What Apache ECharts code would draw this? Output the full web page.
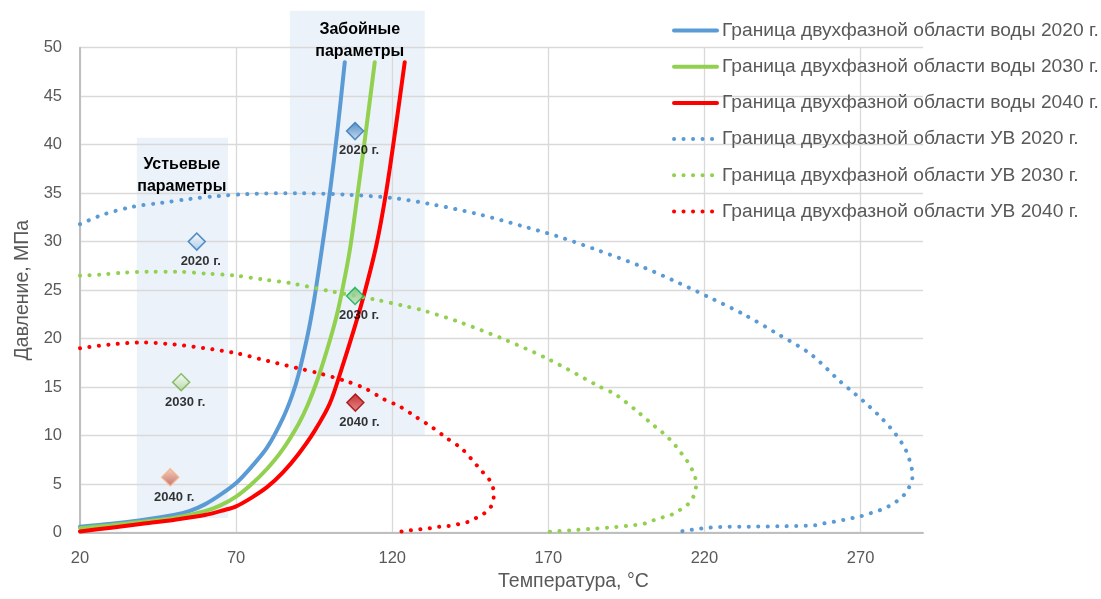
<!DOCTYPE html>
<html><head><meta charset="utf-8">
<script src="https://cdn.jsdelivr.net/npm/echarts@6/dist/echarts.min.js"></script>
<style>html,body{margin:0;padding:0;background:#fff}#c{width:1101px;height:599px}</style>
</head><body><div id="c"></div>
<script>
// ---------- DATA ----------
const xTicks = [20, 70, 120, 170, 220, 270];
const seriesNames = [
  'Граница двухфазной области воды 2020 г.',
  'Граница двухфазной области воды 2030 г.',
  'Граница двухфазной области воды 2040 г.',
  'Граница двухфазной области УВ 2020 г.',
  'Граница двухфазной области УВ 2030 г.',
  'Граница двухфазной области УВ 2040 г.'
];
// water two-phase boundary [T, P]
const water2020 = [[20,0.6],[30,0.9],[40,1.3],[50,1.8],[55,2.2],[60,2.9],[65,3.9],[70,5.1],[75,6.8],[80,8.8],[85,11.8],[88,14.2],[90,16.3],[93,20.5],[95,24],[97,28.2],[100,35],[102.5,41.6],[104.8,48.5]];
const water2030 = [[20,0.45],[30,0.75],[40,1.1],[50,1.5],[60,2.2],[65,2.8],[70,3.7],[75,5.0],[80,6.6],[85,8.6],[90,11.2],[93,13.2],[96,15.7],[99,18.7],[102,22.1],[104,25],[106.4,29.1],[108.7,34.4],[111.5,41.2],[114.4,48.5]];
const water2040 = [[20,0.1],[30,0.5],[40,0.9],[50,1.3],[60,1.8],[66,2.3],[70,2.7],[75,3.6],[80,4.7],[85,6.2],[90,8.1],[95,10.4],[100,13.3],[104.3,17.4],[108,21.2],[111.2,24.8],[114.9,29.6],[118.1,35.2],[121,41.5],[124,48.5]];
// hydrocarbon (УВ) two-phase envelope [T, P]
const uv2020 = [[20,31.8],[27.5,32.8],[37,33.6],[46.1,34.0],[55.2,34.4],[64.3,34.7],[73.3,34.9],[89.3,35.0],[105,34.85],[120,34.5],[131.8,33.9],[146.7,32.9],[161.7,31.6],[173.4,30.5],[185.1,29.2],[199.3,27.5],[210.7,25.9],[221.9,24.2],[232.6,22.5],[243.3,20.5],[254,18.4],[263.4,15.6],[268.2,14.3],[272.8,13.0],[277,11.7],[281.1,10.2],[284.5,8.5],[286.4,6.6],[286.6,5.7],[285.6,4.7],[284,3.9],[281.5,3.2],[279,2.7],[276.2,2.3],[273.3,2.0],[270.3,1.7],[267.5,1.5],[264.5,1.3],[261.4,1.1],[258.4,0.95],[255.4,0.74],[245,0.65],[234.4,0.6],[224.8,0.57],[221.6,0.5],[218.6,0.4],[215.4,0.26],[212.5,0.12]];
const uv2030 = [[20,26.5],[26.4,26.6],[34,26.8],[41.9,26.9],[50.9,26.9],[60.5,26.7],[69.6,26.5],[78.6,26.1],[87.7,25.7],[100,24.9],[114.9,24.0],[123.4,23.4],[129.9,22.9],[141.6,21.7],[156,19.9],[169.9,17.9],[186.1,15.1],[191.7,14.2],[199.2,12.3],[203.5,11.1],[205.9,10.5],[208.3,9.8],[210.4,9.1],[212.3,8.3],[214.2,7.5],[215.7,6.7],[217,5.75],[217.3,4.8],[216.6,3.8],[215,3.0],[212.5,2.4],[209.9,1.9],[207,1.6],[204,1.3],[201.3,0.95],[195,0.67],[189,0.5],[183.2,0.36],[176.8,0.22],[170.4,0.08]];
const uv2040 = [[20,19.0],[30,19.4],[40,19.6],[50,19.4],[60,19.0],[70,18.5],[80,17.7],[90.4,16.9],[96.8,16.4],[105.3,15.6],[111.7,14.8],[117,13.8],[122.4,13.0],[127.7,11.9],[133,10.8],[137.6,9.7],[142.1,8.7],[145.3,7.6],[148.5,6.4],[151,5.5],[152.3,4.6],[152.5,3.7],[151.7,2.7],[149.6,2.0],[146.9,1.5],[144.3,1.1],[141,0.85],[137.9,0.67],[134.7,0.57],[131.8,0.43],[128.8,0.33],[125.6,0.22],[122.6,0.08]];
// operating points
const wellheadPts = [[57.4,30.0],[52.4,15.5],[48.9,5.7]];
const bottomPts = [[108.1,41.4],[108.1,24.4],[108.2,13.4]];
const pointLabels = ['2020 г.', '2030 г.', '2040 г.'];
// shaded zones [Tmin, Tmax, Pmin, Pmax] and their captions [T, P, text]
const zones = [[38.2,67.4,1.5,40.7],[87.2,130.4,10.05,53.8]];
const zoneCaptions = [[52.6,36.8,'Устьевые\nпараметры'],[109.6,50.7,'Забойные\nпараметры']];
const xName = 'Температура, °C';
const yName = 'Давление, МПа';

// ---------- STYLE ----------
const FONT = "'Liberation Sans Narrow','Arial Narrow','Liberation Sans',Arial,sans-serif";
const colors = ['#5b9bd5', '#92d050', '#ff0000'];
const wellheadStyle = [
  {top:'#ffffff', bottom:'#9dc3e6', border:'#2e75b6'},
  {top:'#ffffff', bottom:'#a9d18e', border:'#70ad47'},
  {top:'#f8cbad', bottom:'#c0504d', border:'#f4b183'}
];
const bottomStyle = [
  {top:'#2e75b6', bottom:'#bdd7ee', border:'#2e75b6'},
  {top:'#70c070', bottom:'#c5e0b4', border:'#00b050'},
  {top:'#c00000', bottom:'#e07070', border:'#a00000'}
];
function grad(s){return new echarts.graphic.LinearGradient(0,0,0,1,[{offset:0,color:s.top},{offset:1,color:s.bottom}]);}

const chart = echarts.init(document.getElementById('c'), null, {renderer:'canvas'});
const waterData = [water2020, water2030, water2040];
const uvData = [uv2020, uv2030, uv2040];
const series = [];
series.push({
  type:'custom', name:'zones', z:-1, clip:false, silent:true,
  data: zones,
  renderItem:function(params, api){
    const p1 = api.coord([api.value(0), api.value(3)]);
    const p2 = api.coord([api.value(1), api.value(2)]);
    return {type:'rect', shape:{x:p1[0], y:p1[1], width:p2[0]-p1[0], height:p2[1]-p1[1]}, style:{fill:'#ebf2fa'}};
  }
});
waterData.forEach((d,i)=>series.push({
  type:'line', name:seriesNames[i], data:d, smooth:0.3, symbol:'none', z:3,
  lineStyle:{color:colors[i], width:4, cap:'round'}, itemStyle:{color:colors[i]}
}));
uvData.forEach((d,i)=>series.push({
  type:'line', name:seriesNames[i+3], data:d, smooth:0.3, symbol:'none', z:3,
  lineStyle:{color:colors[i], width:4, type:[0.1,9.4], cap:'round'}, itemStyle:{color:colors[i]}
}));
function pointSeries(pts, styles){
  return {
    type:'scatter', symbol:'diamond', symbolSize:17, z:5,
    data: pts.map((p,i)=>({value:p, name:pointLabels[i], itemStyle:{color:grad(styles[i]), borderColor:styles[i].border, borderWidth:1.5}})),
    label:{show:true, position:'bottom', distance:4, offset:[4,0], formatter:'{b}', color:'#000', fontFamily:FONT, fontWeight:'bold', fontSize:13}
  };
}
series.push(pointSeries(wellheadPts, wellheadStyle));
series.push(pointSeries(bottomPts, bottomStyle));
series.push({
  type:'custom', name:'captions', z:6, clip:false, silent:true,
  data: zoneCaptions,
  renderItem:function(params, api){
    const p = api.coord([api.value(0), api.value(1)]);
    return {type:'text', x:p[0], y:p[1], style:{text:zoneCaptions[params.dataIndex][2], fill:'#000', font:'bold 16px '+FONT, align:'center', verticalAlign:'middle', lineHeight:22}};
  }
});

chart.setOption({
  animation:false,
  backgroundColor:'#ffffff',
  grid:{left:80, right:178, top:47.7, bottom:66.5, containLabel:false, outerBoundsMode:'none'},
  xAxis:{
    type:'value', min:20, max:290,
    axisLine:{show:true, lineStyle:{color:'#bfbfbf', width:2}},
    axisTick:{show:false, customValues:xTicks},
    axisLabel:{customValues:xTicks, color:'#595959', fontSize:16.5, fontFamily:FONT, margin:17},
    splitLine:{show:true, lineStyle:{color:'#d9d9d9', width:1.3}}
  },
  yAxis:{
    type:'value', min:0, max:50, interval:5,
    name:yName, nameLocation:'middle', nameGap:47, nameRotate:90,
    nameTextStyle:{color:'#595959', fontSize:19.5, fontFamily:FONT},
    axisLine:{show:true, lineStyle:{color:'#bfbfbf', width:2}},
    axisTick:{show:false},
    axisLabel:{color:'#595959', fontSize:16.5, fontFamily:FONT, margin:18},
    splitLine:{show:true, lineStyle:{color:'#d9d9d9', width:1.3}}
  },
  legend:{
    data:seriesNames, orient:'vertical', left:667, top:16, padding:5,
    itemWidth:43, itemHeight:20, itemGap:17.2,
    textStyle:{color:'#595959', fontSize:19.2, fontFamily:FONT},
    lineStyle:{width:'inherit'},
    itemStyle:{opacity:0}
  },
  graphic:[{type:'text', left:498, top:572, style:{text:xName, fill:'#595959', font:'19.5px '+FONT}}],
  series:series
});
</script></body></html>
